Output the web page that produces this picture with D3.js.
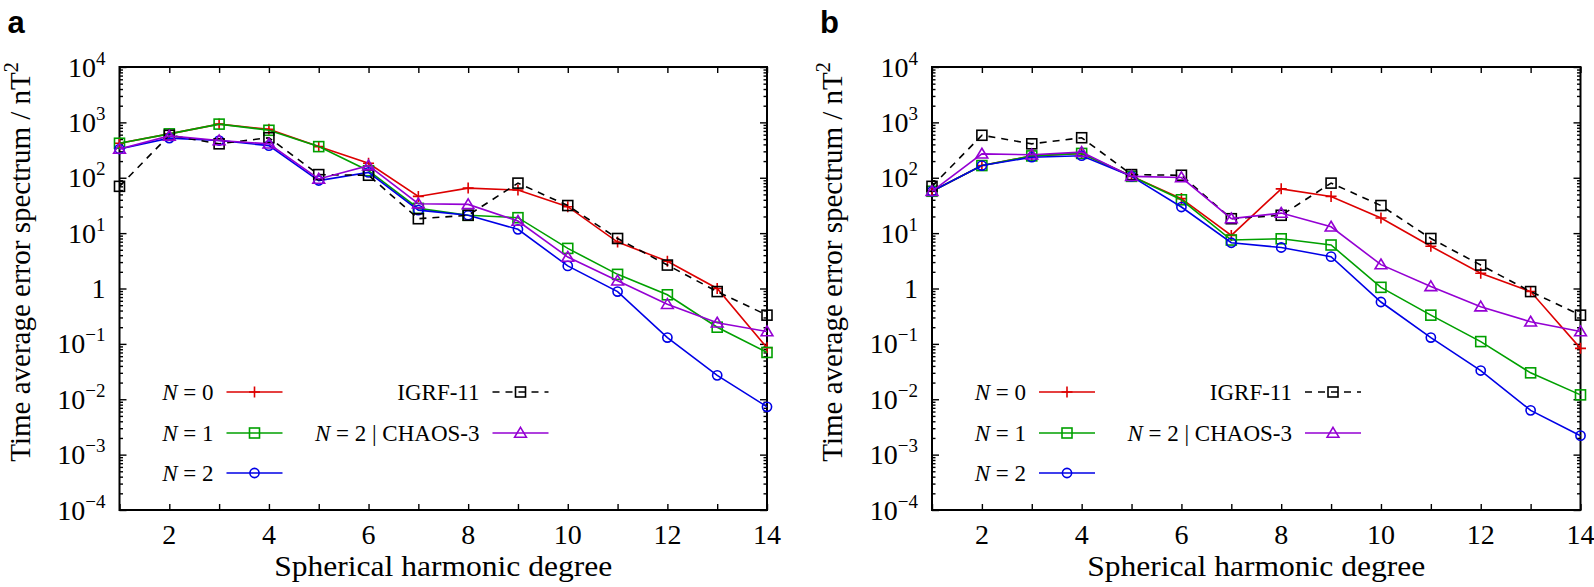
<!DOCTYPE html>
<html><head><meta charset="utf-8">
<script src="https://cdn.jsdelivr.net/npm/d3@7"></script>
<style>
body{margin:0;background:#fff}
svg{display:block}
text{font-family:"Liberation Serif","Times New Roman",serif;fill:#000}
</style>
</head><body>
<svg id="chart" width="1594" height="587"></svg>
<script>
// ---------------- data ----------------
const degrees = [1,2,3,4,5,6,7,8,9,10,11,12,13,14];
const xTickLabels = [2,4,6,8,10,12,14];
const yDecadeExponents = [-4,-3,-2,-1,0,1,2,3,4];
const panelLetters = ["a","b"];
const xAxisTitle = "Spherical harmonic degree";
const yAxisTitle = "Time average error spectrum / nT";

const seriesKeys   = ["N0","N1","N2","IGRF","CHAOS"];
const seriesColors = ["#dd0000","#00a000","#0000e6","#000000","#9400d3"];
const seriesMarkers= ["plus","square","circle","square","triangle"];

// panel a
const a_N0    = [420, 620, 930, 750, 365, 183, 46, 65, 60, 30, 6.9, 3.1, 1.0, 0.085];
const a_N1    = [420, 620, 930, 720, 365, 134, 28, 21, 19, 5.3, 1.8, 0.77, 0.20, 0.070];
const a_N2    = [330, 520, 470, 380, 89, 125, 26, 21, 11.7, 2.56, 0.88, 0.13, 0.027, 0.0073];
const a_CHAOS = [330, 570, 470, 410, 95, 165, 34, 33, 16.5, 3.7, 1.38, 0.52, 0.24, 0.167];
// panel b
const b_N0    = [57, 166, 248, 275, 106, 42, 9.1, 63, 46, 18.8, 5.8, 1.88, 0.88, 0.083];
const b_N1    = [57, 166, 248, 275, 106, 40, 7.5, 7.9, 6.1, 1.05, 0.33, 0.11, 0.030, 0.012];
const b_N2    = [57, 166, 235, 250, 106, 29.6, 6.7, 5.5, 3.76, 0.57, 0.13, 0.033, 0.0063, 0.0022];
const b_CHAOS = [57, 270, 260, 290, 106, 101, 18.3, 23, 13, 2.7, 1.09, 0.47, 0.25, 0.167];
// shared reference model
const IGRF11  = [70, 585, 410, 528, 114, 111, 18.2, 21, 80, 31.5, 8, 2.65, 0.88, 0.33];

// legend
const legendCol1 = [["N"," = 0"],["N"," = 1"],["N"," = 2"]];
const legendCol2 = [["","IGRF-11"],["N"," = 2 | CHAOS-3"]];

// ---------------- layout ----------------
const svg = d3.select("#chart");
const plotTop = 67, plotBottom = 510;
const panels = [
  {letter: panelLetters[0], left: 119.5, right: 767,
   series: [a_N0, a_N1, a_N2, IGRF11, a_CHAOS]},
  {letter: panelLetters[1], left: 932, right: 1580.5,
   series: [b_N0, b_N1, b_N2, IGRF11, b_CHAOS]}
];

function drawMarker(g, type, cx, cy, color){
  const sw = 1.6;
  if(type==="plus"){
    g.append("path").attr("d",`M${cx-5.5},${cy}H${cx+5.5}M${cx},${cy-5.5}V${cy+5.5}`)
      .attr("stroke",color).attr("stroke-width",sw).attr("fill","none");
  } else if(type==="square"){
    g.append("rect").attr("x",cx-5).attr("y",cy-5).attr("width",10).attr("height",10)
      .attr("stroke",color).attr("stroke-width",sw).attr("fill","none");
  } else if(type==="circle"){
    g.append("circle").attr("cx",cx).attr("cy",cy).attr("r",4.6)
      .attr("stroke",color).attr("stroke-width",sw).attr("fill","none");
  } else if(type==="triangle"){
    const h=5.6;
    g.append("path").attr("d",`M${cx},${cy-h}L${cx+h*1.05},${cy+h*0.75}L${cx-h*1.05},${cy+h*0.75}Z`)
      .attr("stroke",color).attr("stroke-width",sw).attr("fill","none");
  }
}

panels.forEach(p=>{
  const x = d3.scaleLinear().domain([1,14]).range([p.left,p.right]);
  const y = d3.scaleLog().domain([1e-4,1e4]).range([plotBottom,plotTop]);
  const g = svg.append("g");

  const minors = [];
  yDecadeExponents.slice(0,-1).forEach(e=>{ for(let m=2;m<=9;m++) minors.push(m*Math.pow(10,e)); });
  const majors = yDecadeExponents.map(e=>Math.pow(10,e));

  const ax = (gen)=>{ const s=g.append("g").call(gen); s.select(".domain").remove(); s.selectAll("line").attr("stroke","#000").attr("stroke-width",1.4); s.selectAll("text").remove(); return s; };
  ax(d3.axisLeft(y).tickValues(majors).tickSize(-7)).attr("transform",`translate(${p.left},0)`);
  ax(d3.axisLeft(y).tickValues(minors).tickSize(-3.5)).attr("transform",`translate(${p.left},0)`);
  ax(d3.axisRight(y).tickValues(majors).tickSize(-7)).attr("transform",`translate(${p.right},0)`);
  ax(d3.axisRight(y).tickValues(minors).tickSize(-3.5)).attr("transform",`translate(${p.right},0)`);
  ax(d3.axisBottom(x).tickValues(degrees).tickSize(-6)).attr("transform",`translate(0,${plotBottom})`);
  ax(d3.axisTop(x).tickValues(degrees).tickSize(-6)).attr("transform",`translate(0,${plotTop})`);

  g.append("rect").attr("x",p.left).attr("y",plotTop).attr("width",p.right-p.left).attr("height",plotBottom-plotTop)
    .attr("fill","none").attr("stroke","#000").attr("stroke-width",2);

  yDecadeExponents.forEach(e=>{
    const t = g.append("text").attr("x",p.left-14).attr("y",y(Math.pow(10,e))+9.5)
      .attr("text-anchor","end").style("font-size","28px");
    if(e===0){ t.text("1"); }
    else {
      t.append("tspan").text("10");
      t.append("tspan").attr("dy",-12).style("font-size","19px").text(e<0?"\u2212"+(-e):String(e));
    }
  });
  xTickLabels.forEach(d=>{
    g.append("text").attr("x",x(d)).attr("y",plotBottom+34).attr("text-anchor","middle")
      .style("font-size","28px").text(d);
  });
  g.append("text").attr("x",(p.left+p.right)/2).attr("y",576).attr("text-anchor","middle")
    .attr("textLength",338).attr("lengthAdjust","spacingAndGlyphs")
    .style("font-size","29px").text(xAxisTitle);
  const yt = g.append("text").attr("transform",`translate(${p.left-90},262) rotate(-90)`)
    .attr("text-anchor","middle").style("font-size","29px");
  yt.append("tspan").text(yAxisTitle);
  yt.append("tspan").attr("dy",-12).style("font-size","20px").text("2");

  g.append("text").attr("x",p.left-112).attr("y",33)
    .style("font-family","'Liberation Sans',Arial,sans-serif").style("font-weight","bold")
    .style("font-size","31px").text(p.letter);

  p.series.forEach((vals,i)=>{
    const sg = g.append("g");
    const line = d3.line().x((d,j)=>x(degrees[j])).y(d=>y(d));
    sg.append("path").attr("d",line(vals)).attr("fill","none")
      .attr("stroke",seriesColors[i]).attr("stroke-width",1.6)
      .attr("stroke-dasharray", seriesKeys[i]==="IGRF" ? "7,6" : null);
    vals.forEach((v,j)=>drawMarker(sg,seriesMarkers[i],x(degrees[j]),y(v),seriesColors[i]));
  });

  const rows = [392,433,473];
  const entries = [
    {col:0,row:0,s:0,lab:legendCol1[0]},{col:0,row:1,s:1,lab:legendCol1[1]},{col:0,row:2,s:2,lab:legendCol1[2]},
    {col:1,row:0,s:3,lab:legendCol2[0]},{col:1,row:1,s:4,lab:legendCol2[1]}
  ];
  const colTextRight = [p.left+94, p.left+360];
  const colLine = [[p.left+107,p.left+163],[p.left+373,p.left+429]];
  entries.forEach(en=>{
    const ry = rows[en.row];
    const t = g.append("text").attr("x",colTextRight[en.col]).attr("y",ry+7.5)
      .attr("text-anchor","end").style("font-size","23px");
    if(en.lab[0]) t.append("tspan").style("font-style","italic").text(en.lab[0]);
    t.append("tspan").text(en.lab[1]);
    const [x0,x1] = colLine[en.col];
    g.append("line").attr("x1",x0).attr("x2",x1).attr("y1",ry).attr("y2",ry)
      .attr("stroke",seriesColors[en.s]).attr("stroke-width",1.6)
      .attr("stroke-dasharray", seriesKeys[en.s]==="IGRF" ? "7,6" : null);
    drawMarker(g,seriesMarkers[en.s],(x0+x1)/2,ry,seriesColors[en.s]);
  });
});
</script>
</body></html>
